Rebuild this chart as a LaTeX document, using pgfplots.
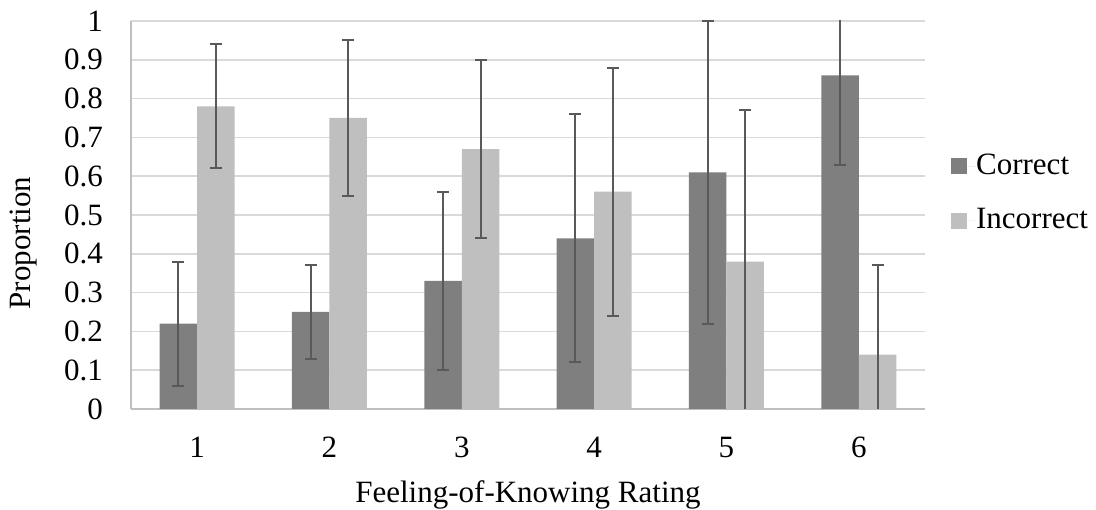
\documentclass[border=0pt]{standalone}
\usepackage{fontspec}
\setmainfont{Liberation Serif}
\usepackage{pgfplots}
\pgfplotsset{compat=1.18}
\definecolor{cdark}{HTML}{7F7F7F}
\definecolor{clight}{HTML}{BFBFBF}
\definecolor{cerr}{HTML}{595959}
\definecolor{cgrid}{HTML}{D9D9D9}
\definecolor{caxis}{HTML}{BFBFBF}
\newcommand{\bigf}{\fontsize{31}{36}\selectfont}
\begin{document}
\bigf
\begin{tikzpicture}[x=1pt,y=1pt]
\path[use as bounding box] (-131,-101) rectangle (965,409);
\begin{axis}[
  at={(0,0)}, anchor=south west,
  scale only axis, width=794pt, height=388pt,
  ybar=0pt, bar width=37.5pt,
  xmin=0.5, xmax=6.5, ymin=0, ymax=1,
  xtick={1,2,3,4,5,6}, major tick length=0pt,
  ytick={0,0.1,...,1.01},
  /pgf/number format/assume math mode=true,
  /pgf/number format/fixed, /pgf/number format/precision=1,
  yticklabel style={font=\bigf, inner sep=0pt, anchor=east, xshift=-28pt},
  xticklabel style={font=\bigf, inner sep=0pt, anchor=north, yshift=-28pt},
  ymajorgrids, grid style={cgrid, line width=1.6pt},
  axis line style={caxis, line width=1.6pt},
  axis x line*=bottom, axis y line*=left,
  x axis line style={-}, y axis line style={-},
  xlabel={Feeling-of-Knowing Rating},
  ylabel={Proportion},
  label style={font=\bigf},
  xlabel style={at={(0.5,0)}, anchor=north, inner sep=0pt, yshift=-71pt},
  ylabel style={at={(-0.1348,0.428)}, anchor=center, inner sep=0pt},
  legend style={draw=none, fill=none, at={(1.0327,0.658)}, anchor=north west,
     font=\bigf, row sep=29pt, inner sep=0pt, nodes={inner sep=0pt}},
  legend cell align=left,
  legend image code/.code={\fill[#1] (0pt,-8pt) rectangle (16pt,8pt);
     \path (16pt,0pt) -- (25pt,0pt);},
  error bars/error bar style={cerr, line width=2pt},
  error bars/error mark options={cerr, line width=2pt, rotate=90, mark size=6pt},
]
\addplot[fill=cdark, draw=none, error bars/.cd, y dir=both, y explicit]
  coordinates {(1,0.22) +- (0,0.16) (2,0.25) +- (0,0.12) (3,0.33) +- (0,0.23)
               (4,0.44) +- (0,0.32) (5,0.61) +- (0,0.39) (6,0.86) +- (0,0.23)};
\addplot[fill=clight, draw=none, error bars/.cd, y dir=both, y explicit]
  coordinates {(1,0.78) +- (0,0.16) (2,0.75) +- (0,0.20) (3,0.67) +- (0,0.23)
               (4,0.56) +- (0,0.32) (5,0.38) +- (0,0.39) (6,0.14) +- (0,0.23)};
\legend{Correct, Incorrect}
\end{axis}
\end{tikzpicture}
\end{document}
